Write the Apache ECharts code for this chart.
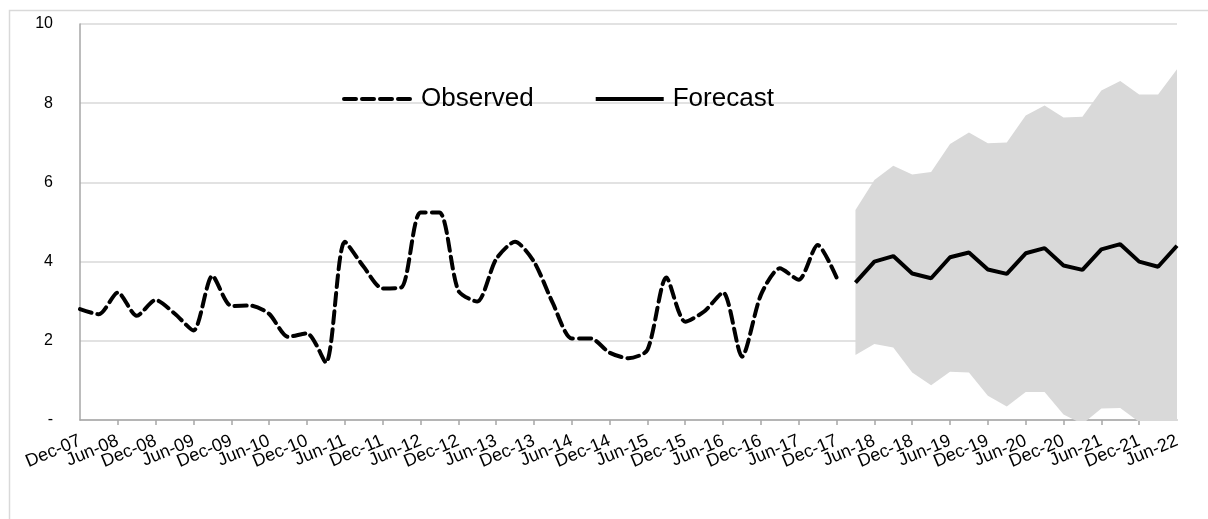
<!DOCTYPE html>
<html>
<head>
<meta charset="utf-8">
<script src="https://cdn.jsdelivr.net/npm/echarts@6/dist/echarts.min.js"></script>
<style>
  html, body { margin: 0; padding: 0; background: #fff; }
  #chart { width: 1208px; height: 519px; }
</style>
</head>
<body>
<div id="chart"></div>
<script>
// quarterly dates, Dec-07 .. Jun-22
const quarters = [
  'Dec-07', 'Mar-08', 'Jun-08', 'Sep-08', 'Dec-08', 'Mar-09', 'Jun-09', 'Sep-09', 'Dec-09',
  'Mar-10', 'Jun-10', 'Sep-10', 'Dec-10', 'Mar-11', 'Jun-11', 'Sep-11', 'Dec-11',
  'Mar-12', 'Jun-12', 'Sep-12', 'Dec-12', 'Mar-13', 'Jun-13', 'Sep-13', 'Dec-13',
  'Mar-14', 'Jun-14', 'Sep-14', 'Dec-14', 'Mar-15', 'Jun-15', 'Sep-15', 'Dec-15',
  'Mar-16', 'Jun-16', 'Sep-16', 'Dec-16', 'Mar-17', 'Jun-17', 'Sep-17', 'Dec-17',
  'Mar-18', 'Jun-18', 'Sep-18', 'Dec-18', 'Mar-19', 'Jun-19', 'Sep-19', 'Dec-19',
  'Mar-20', 'Jun-20', 'Sep-20', 'Dec-20', 'Mar-21', 'Jun-21', 'Sep-21', 'Dec-21',
  'Mar-22', 'Jun-22'
];

// Dec-07 .. Dec-17
const observed = [
  2.80, 2.67, 3.22, 2.63, 3.03, 2.69, 2.26, 3.64, 2.88, 2.89,
  2.68, 2.10, 2.19, 1.45, 4.50, 3.87, 3.32, 3.35, 5.24, 5.24,
  3.27, 2.99, 4.06, 4.50, 4.00, 2.95, 2.06, 2.06, 1.70, 1.56,
  1.77, 3.60, 2.48, 2.74, 3.22, 1.60, 3.16, 3.83, 3.54, 4.42,
  3.60
];

// Mar-18 .. Jun-22
const forecast = [
  3.47, 4.00, 4.14, 3.70, 3.58, 4.11, 4.23, 3.80, 3.69,
  4.21, 4.34, 3.90, 3.79, 4.31, 4.44, 4.00, 3.87, 4.40
];
const bandUpper = [
  5.30, 6.06, 6.42, 6.20, 6.26, 6.97, 7.26, 6.99, 7.01,
  7.69, 7.94, 7.64, 7.66, 8.32, 8.56, 8.22, 8.22, 8.86
];
const bandLower = [
  1.64, 1.92, 1.83, 1.20, 0.88, 1.22, 1.20, 0.61, 0.34,
  0.71, 0.71, 0.14, -0.10, 0.29, 0.30, -0.05, -0.30, -0.50
];

const yTicks = [0, 2, 4, 6, 8, 10];

const nObs = observed.length;
const last = quarters.length - 1;
const pad = n => new Array(n).fill(null);
const obsData = observed.concat(pad(quarters.length - nObs));
const fcData = pad(nObs).concat(forecast);
const lowData = pad(nObs).concat(bandLower);
const diffData = pad(nObs).concat(bandUpper.map((u, i) => +(u - bandLower[i]).toFixed(2)));

const chart = echarts.init(document.getElementById('chart'));
const font = 'Liberation Sans, Arial, sans-serif';

const labelStyle = {
  rotate: 23,
  margin: 20,
  fontSize: 18,
  color: '#000',
  fontFamily: font
};

const option = {
  animation: false,
  backgroundColor: '#fff',
  textStyle: { fontFamily: font },
  graphic: [{
    type: 'rect',
    left: 7,
    top: 8,
    shape: { width: 1300, height: 600 },
    style: { fill: 'none', stroke: '#d9d9d9', lineWidth: 1.5 },
    silent: true
  }],
  grid: { left: 80, right: 31, top: 24, bottom: 99 },
  legend: {
    data: ['Observed', 'Forecast'],
    left: 342,
    top: 86,
    padding: 0,
    itemWidth: 68,
    itemHeight: 16,
    itemGap: 60,
    itemStyle: { color: 'rgba(0,0,0,0)', borderWidth: 0, opacity: 0 },
    lineStyle: { width: 4 },
    textStyle: { fontSize: 26, color: '#000', fontFamily: font, padding: [0, 0, 0, 4] }
  },
  xAxis: [
    {
      type: 'category',
      data: quarters,
      boundaryGap: false,
      axisLine: { lineStyle: { color: '#a6a6a6', width: 1.5 } },
      axisTick: { interval: 1, length: 5, lineStyle: { color: '#a6a6a6', width: 1.5 } },
      axisLabel: Object.assign({
        interval: 1,
        showMinLabel: false,
        showMaxLabel: false
      }, labelStyle),
      splitLine: { show: false }
    },
    {
      // first / last labels only, so the overlap check keeps them
      type: 'category',
      data: quarters,
      boundaryGap: false,
      position: 'bottom',
      axisLine: { show: false },
      axisTick: { show: false },
      axisLabel: Object.assign({
        interval: i => i === 0 || i === last
      }, labelStyle),
      splitLine: { show: false }
    }
  ],
  yAxis: {
    type: 'value',
    min: yTicks[0],
    max: yTicks[yTicks.length - 1],
    interval: 2,
    axisLine: { show: true, lineStyle: { color: '#a6a6a6', width: 1.5 } },
    axisTick: { show: false },
    axisLabel: {
      margin: 27,
      fontSize: 16,
      color: '#000',
      fontFamily: font,
      formatter: v => (v === 0 ? '-' : String(v))
    },
    splitLine: { lineStyle: { color: '#d9d9d9', width: 1.5 } }
  },
  series: [
    {
      name: 'band-low',
      type: 'line',
      data: lowData,
      stack: 'band',
      stackStrategy: 'all',
      symbol: 'none',
      lineStyle: { opacity: 0 },
      silent: true
    },
    {
      name: 'band',
      type: 'line',
      data: diffData,
      stack: 'band',
      stackStrategy: 'all',
      symbol: 'none',
      lineStyle: { opacity: 0 },
      areaStyle: { color: '#d9d9d9', opacity: 1 },
      silent: true
    },
    {
      name: 'Observed',
      type: 'line',
      data: obsData,
      smooth: 0.25,
      symbol: 'none',
      itemStyle: { color: '#000' },
      lineStyle: { color: '#000', width: 4, type: [12, 6], cap: 'round' }
    },
    {
      name: 'Forecast',
      type: 'line',
      data: fcData,
      symbol: 'none',
      itemStyle: { color: '#000' },
      lineStyle: { color: '#000', width: 4 }
    }
  ]
};
chart.setOption(option);
</script>
</body>
</html>
